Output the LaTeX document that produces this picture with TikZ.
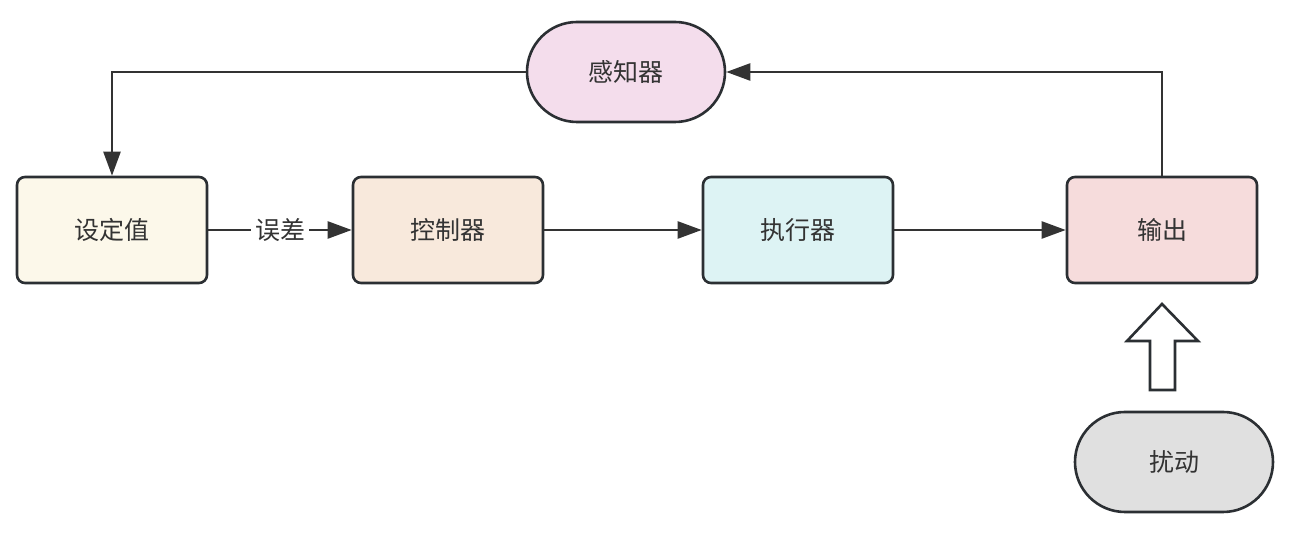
\documentclass[tikz,border=0pt]{standalone}
\usepackage{fontspec}
\setmainfont{Noto Sans CJK SC}
\usetikzlibrary{arrows.meta, positioning}

\definecolor{edgeclr}{HTML}{2B2F33}
\definecolor{lineclr}{HTML}{333333}
\definecolor{textclr}{HTML}{333333}

\begin{document}
\begin{tikzpicture}[
    x=0.5pt, y=-0.5pt,
    box/.style={rectangle, draw=edgeclr, line width=1.3pt, rounded corners=4pt,
                minimum width=95pt, minimum height=53pt, text centered,
                text=textclr, font=\fontsize{12.5}{15}\selectfont},
    pill/.style={box, rounded corners=25pt, minimum width=99pt, minimum height=50pt},
    arr/.style={-{Triangle[length=12pt, width=8.5pt]}, line width=1.2pt, draw=lineclr},
]
    \useasboundingbox (0,0) rectangle (1292,544);

    \node[box, fill={rgb,255:red,252;green,248;blue,234}]  (setpt)  at (112,230)    {设定值};
    \node[box, fill={rgb,255:red,248;green,233;blue,220}]  (ctrl)   at (448,230)    {控制器};
    \node[box, fill={rgb,255:red,221;green,243;blue,244}]  (actor)  at (798,230)    {执行器};
    \node[box, fill={rgb,255:red,246;green,220;blue,220}]  (output) at (1162,230)   {输出};
    \node[pill, fill={rgb,255:red,244;green,221;blue,236}] (sensor) at (626,72)     {感知器};
    \node[pill, fill={rgb,255:red,224;green,224;blue,224}] (dist)   at (1174,462)   {扰动};

    \draw[arr] (setpt)  -- node[fill=white, inner sep=2pt, text=textclr,
                               font=\fontsize{12.5}{15}\selectfont]{误差} (ctrl);
    \draw[arr] (ctrl)   -- (actor);
    \draw[arr] (actor)  -- (output);
    \draw[arr] (output.north) |- (sensor.east);
    \draw[arr] (sensor.west)  -| (setpt.north);

    % hollow arrow: disturbance acting on the output
    \draw[draw=edgeclr, line width=1.3pt, fill=white, line join=miter]
        (1162,304) -- (1198,341) -- (1175,341) -- (1175,390)
        -- (1150,390) -- (1150,341) -- (1127,341) -- cycle;
\end{tikzpicture}
\end{document}
